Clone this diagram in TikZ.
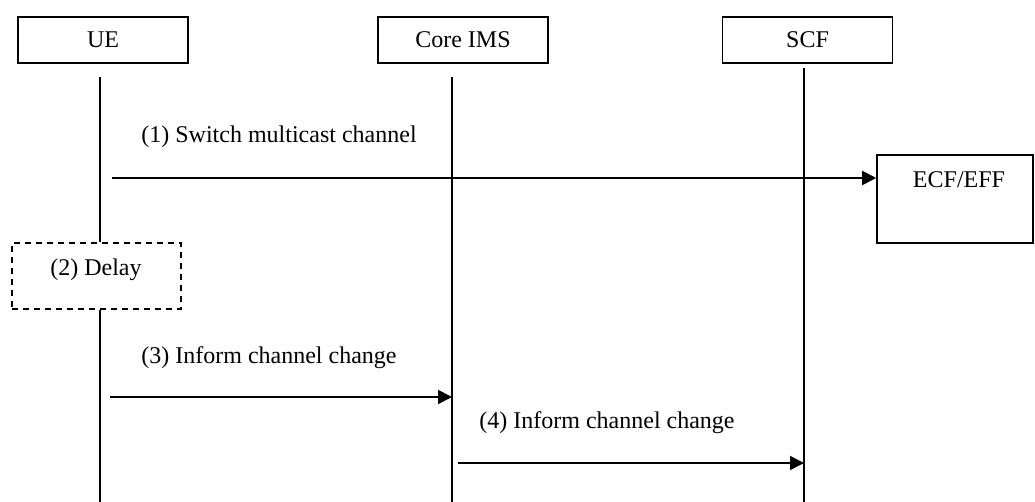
\documentclass[tikz,border=0pt]{standalone}
\usepackage{fontspec}
\setmainfont{Liberation Serif}
\usetikzlibrary{arrows.meta}
\begin{document}
\begin{tikzpicture}[x=1pt,y=-1pt,
  txt/.style={font=\fontsize{24}{28}\selectfont},
  actor/.style={draw,line width=1.6pt,minimum width=170pt,minimum height=46pt,inner sep=0pt,txt},
  boxdash/.style={draw,line width=1.6pt,dash pattern=on 6pt off 5pt,inner sep=0pt},
  plainbox/.style={draw,line width=1.6pt,inner sep=0pt},
  lbl/.style={anchor=base,inner sep=0pt,txt},
  life/.style={line width=1.6pt},
  msg/.style={line width=1.9pt,-{Triangle[length=14pt,width=14pt]}}]
\useasboundingbox (0,0) rectangle (1035,502);
% actors
\node[actor] (ue) at (103,40) {UE};
\node[actor] (ims) at (463,40) {Core IMS};
\node[actor] (scf) at (807.5,40) {SCF};
% delay and ECF/EFF boxes
\node[boxdash,minimum width=169pt,minimum height=66pt] (delay) at (96.5,276) {};
\node[lbl] (delaytxt) at (96,276) {(2) Delay};
\node[plainbox,minimum width=156pt,minimum height=88pt] (ecf) at (955,199) {};
\node[lbl] (ecftxt) at (959,188) {ECF/EFF};
% lifelines
\coordinate (ueTop) at (100,77);
\coordinate (imsTop) at (452,77);
\coordinate (scfTop) at (804,68);
\coordinate (ueBot) at (100,502);
\coordinate (imsBot) at (452,502);
\coordinate (scfBot) at (804,502);
\draw[life] (ueTop) -- (ueTop |- delay.north);
\draw[life] (ueTop |- delay.south) -- (ueBot);
\draw[life] (imsTop) -- (imsBot);
\draw[life] (scfTop) -- (scfBot);
% messages
\coordinate (m1s) at (112,178);
\draw[msg] (m1s) -- (m1s -| ecf.west);
\node[lbl] (m1t) at (279,143) {(1) Switch multicast channel};
\coordinate (m3s) at (110,397);
\draw[msg] (m3s) -- (m3s -| imsTop);
\node[lbl] (m3t) at (269,363) {(3) Inform channel change};
\coordinate (m4s) at (458,463);
\draw[msg] (m4s) -- (m4s -| scfTop);
\node[lbl] (m4t) at (607,428) {(4) Inform channel change};
\end{tikzpicture}
\end{document}
